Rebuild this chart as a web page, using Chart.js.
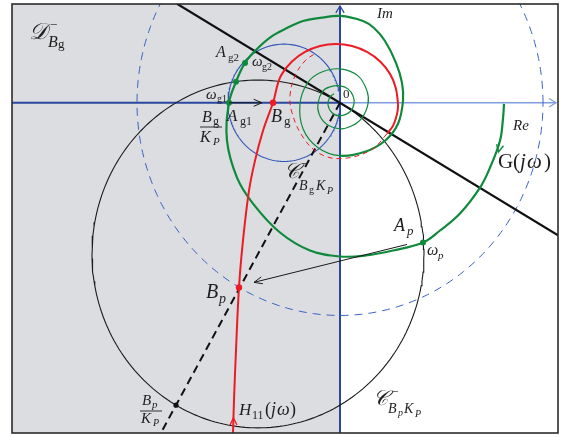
<!DOCTYPE html>
<html>
<head>
<meta charset="utf-8">
<script src="https://cdn.jsdelivr.net/npm/chart.js@4/dist/chart.umd.min.js"></script>
<style>
  html, body { margin: 0; padding: 0; background: #ffffff; }
  canvas { display: block; }
</style>
</head>
<body>
<canvas id="nyq" width="568" height="437"></canvas>
<script>
// ---- Plane extent (Re, Im) ----
const reRange = [-3.28, 2.18];
const imRange = [-3.152, 0.943];

// ---- Open-loop locus G(jw), traced clockwise from w = 0 and winding into the origin ----
const gRe = [1.64, 1.63, 1.60, 1.50, 1.40, 1.20, 1.00, 0.83, 0.53, 0.26, 0.00, -0.30, -0.60, -0.87, -1.03, -1.13,
             -1.11, -1.04, -0.95, -0.83, -0.69, -0.53, -0.37, -0.20, 0.00, 0.23, 0.34, 0.45, 0.56, 0.62, 0.63, 0.58, 0.45, 0.25, 0.00,
             -0.22, -0.37, -0.40, -0.33, -0.20, 0.00, 0.18, 0.27, 0.28, 0.22, 0.12, 0.00, -0.14, -0.21, -0.22,
             -0.17, -0.10, 0.00, 0.08, 0.13, 0.14, 0.10, 0.00, -0.08, -0.12, -0.10, -0.06];
const gIm = [-0.01, -0.152, -0.362, -0.619, -0.81, -1.057, -1.219, -1.333, -1.41, -1.457, -1.467, -1.41, -1.238, -0.962, -0.714, -0.362,
             0.00, 0.20, 0.381, 0.514, 0.63, 0.714, 0.781, 0.81, 0.829, 0.781, 0.714, 0.59, 0.381, 0.19, 0.019, -0.20, -0.362, -0.467, -0.505,
             -0.429, -0.248, -0.01, 0.181, 0.286, 0.324, 0.257, 0.114, -0.01, -0.143, -0.219, -0.248, -0.20, -0.105, 0.00,
             0.114, 0.152, 0.162, 0.133, 0.067, -0.01, -0.086, -0.124, -0.095, -0.019, 0.057, 0.086];
const gInnerFrom = 34;   // index where the locus enters its inner turns

// ---- Closed-loop locus H11(jw) ----
const hRe = [-1.07, -1.06, -1.04, -1.01, -0.97, -0.91, -0.85, -0.77, -0.67, -0.58, -0.35, -0.04, 0.27, 0.50, 0.58, 0.54, 0.47,
             0.30, 0.00, -0.22, -0.38, -0.48, -0.50, -0.45, -0.35, -0.24];
const hIm = [-3.152, -2.838, -2.362, -1.762, -1.314, -0.838, -0.552, -0.267, 0.00, 0.276, 0.486, 0.562, 0.486, 0.276, -0.01, -0.20, -0.295,
             -0.457, -0.533, -0.476, -0.314, -0.095, 0.067, 0.257, 0.40, 0.476];
const hDashedFrom = 16;  // high-frequency continuation is dashed

// ---- Circles: C_BgKp, C_BpKp and the dashed reference circle ----
const circleCx = [-0.56, -0.82, 0.00];
const circleCy = [0.00, -1.443, 0.00];
const circleR  = [0.56, 1.66, 2.03];

// ---- Straight construction lines ----
const slopeLineRe = [-1.63, 2.18];
const slopeLineIm = [0.945, -1.264];
const bpRayRe = [0.00, -1.80];
const bpRayIm = [0.00, -3.168];

// ---- Marked points ----
const redPtRe = [-0.67, -1.01];                  // B_g, B_p
const redPtIm = [0.00, -1.762];
const greenPtRe = [-1.11, -1.04, -0.95, 0.83];   // A_g1, w_g1, A_g2 / w_g2, A_p
const greenPtIm = [0.00, 0.20, 0.381, -1.333];
const blackPtRe = [-1.64];                       // B_p / K_P
const blackPtIm = [-2.886];

const zip = (xs, ys) => xs.map((x, i) => ({ x: x, y: ys[i] }));
function circlePts(i) {
  const pts = [];
  for (let k = 0; k <= 240; k++) {
    const t = (k / 240) * 2 * Math.PI;
    pts.push({ x: circleCx[i] + circleR[i] * Math.cos(t), y: circleCy[i] + circleR[i] * Math.sin(t) });
  }
  return pts;
}

const GREEN = '#0f8a3c', RED = '#ec1c24', BLUE = '#2f55b8', AXIS = '#2a479f', AXIS_LIGHT = '#7f9ddf';

const line = (data, color, width, extra) => Object.assign({
  data: data, showLine: true, borderColor: color, borderWidth: width,
  pointRadius: 0, fill: false, tension: 0
}, extra || {});

const datasets = [
  { data: zip(redPtRe, redPtIm), pointRadius: 3.2, pointBackgroundColor: RED, pointBorderWidth: 0, showLine: false },
  { data: zip(greenPtRe, greenPtIm), pointRadius: 3, pointBackgroundColor: GREEN, pointBorderWidth: 0, showLine: false },
  { data: zip(blackPtRe, blackPtIm), pointRadius: 2.6, pointBackgroundColor: '#111', pointBorderWidth: 0, showLine: false },
  line(zip(hRe, hIm), RED, 2, {
    tension: 0.38,
    segment: {
      borderWidth: c => (c.p0DataIndex >= hDashedFrom ? 1 : 2),
      borderDash: c => (c.p0DataIndex >= hDashedFrom ? [5, 4] : [])
    }
  }),
  line(zip(gRe, gIm), GREEN, 2.2, {
    tension: 0.38,
    segment: { borderWidth: c => (c.p0DataIndex >= gInnerFrom ? 1.2 : 2.2) }
  }),
  line(zip(slopeLineRe, slopeLineIm), '#111', 2.2),
  line(zip(bpRayRe, bpRayIm), '#111', 2, { borderDash: [8, 5] }),
  line(circlePts(0), BLUE, 1.1),
  line(circlePts(1), '#1b1b1b', 1.1),
  line(circlePts(2), '#3a62c6', 1, { borderDash: [8, 6] })
];

// ---- Text annotations (runs of italic / upright Times-style glyphs) ----
const SERIF = '"Liberation Serif", "DejaVu Serif", serif';
const SCRIPT_D = '\u{1D49F}', SCRIPT_C = '\u{1D49E}';
const textRuns = [
  [SCRIPT_D, 29, 39, 23, true], ['\u2212', 50, 29, 13, false], ['B', 48, 47, 16, true], ['g', 58, 48, 13, false],
  ['Im', 377, 18, 15, true],
  ['0', 343, 98, 13, false],
  ['Re', 513, 130, 15, true],
  ['G', 498, 168, 21, false], ['(', 513, 168, 21, false], ['j', 520, 168, 21, true], ['\u03C9', 527, 168, 21, true], [')', 544, 168, 21, false],
  ['A', 394, 231, 18, true], ['p', 407, 235, 13, true],
  ['\u03C9', 427, 255, 16, true], ['p', 438, 259, 11, true],
  ['B', 206, 298, 20, true], ['p', 219, 303, 14, true],
  ['B', 142, 405, 15, true], ['p', 152, 408, 11, true],
  ['K', 141, 423, 15, true], ['P', 153, 426, 10, true],
  ['H', 239, 415, 17, true], ['11', 252, 419, 12, false], ['(', 265, 415, 18, false], ['j', 271, 415, 18, true], ['\u03C9', 277, 415, 18, true], [')', 290, 415, 18, false],
  [SCRIPT_C, 373, 405, 21, true], ['\u2212', 391, 396, 13, false], ['B', 388, 413, 14, true], ['p', 398, 416, 10, true], ['K', 404, 413, 14, true], ['P', 415, 417, 10, true],
  [SCRIPT_C, 284, 178, 21, true], ['\u2212', 301, 168, 13, false], ['B', 299, 190, 14, true], ['g', 309, 193, 10, false], ['K', 316, 190, 14, true], ['P', 327, 194, 10, true],
  ['A', 216, 57, 16, true], ['g2', 228, 61, 11, false],
  ['\u03C9', 252, 66, 15, true], ['g2', 262, 70, 10, false],
  ['\u03C9', 206, 99, 15, true], ['g1', 217, 102, 10, false],
  ['A', 227, 121, 17, true], ['g1', 240, 125, 12, false],
  ['B', 271, 122, 18, true], ['g', 284, 125, 13, false],
  ['B', 202, 122, 16, true], ['g', 213, 125, 12, false],
  ['K', 200, 142, 16, true], ['P', 213, 145, 11, true]
];
const fractionBars = [[200, 222, 127], [140, 162, 411]];

// ---- Arrows given in plane coordinates ----
const arrowFromRe = [0.67, -1.11];
const arrowFromIm = [-1.352, 0.00];
const arrowToRe = [-0.86, -0.78];
const arrowToIm = [-1.714, 0.00];

function chevron(ctx, x, y, ang, len, spread) {
  ctx.beginPath();
  ctx.moveTo(x - len * Math.cos(ang - spread), y - len * Math.sin(ang - spread));
  ctx.lineTo(x, y);
  ctx.lineTo(x - len * Math.cos(ang + spread), y - len * Math.sin(ang + spread));
  ctx.stroke();
}

const planePlugin = {
  id: 'plane',
  beforeDatasetsDraw(chart) {
    const { ctx, chartArea: a, scales: { x, y } } = chart;
    const x0 = x.getPixelForValue(0), y0 = y.getPixelForValue(0);
    ctx.save();
    ctx.fillStyle = '#dcdde0';
    ctx.fillRect(a.left, a.top, x0 - a.left, a.bottom - a.top);
    // real axis
    ctx.lineWidth = 2;
    ctx.strokeStyle = AXIS;
    ctx.beginPath(); ctx.moveTo(a.left, y0); ctx.lineTo(x0, y0); ctx.stroke();
    ctx.strokeStyle = AXIS_LIGHT;
    ctx.lineWidth = 1.6;
    ctx.beginPath(); ctx.moveTo(x0, y0); ctx.lineTo(a.right - 2, y0); ctx.stroke();
    ctx.lineWidth = 1.2;
    chevron(ctx, a.right - 2, y0, 0, 8, 0.55);
    // imaginary axis
    ctx.strokeStyle = AXIS;
    ctx.lineWidth = 2;
    ctx.beginPath(); ctx.moveTo(x0, a.bottom); ctx.lineTo(x0, a.top + 2); ctx.stroke();
    ctx.lineWidth = 1.2;
    chevron(ctx, x0, a.top + 2, -Math.PI / 2, 8, 0.55);
    ctx.restore();
  },
  afterDatasetsDraw(chart) {
    const { ctx, chartArea: a, scales: { x, y } } = chart;
    ctx.save();
    // construction arrows
    ctx.strokeStyle = '#1a1a1a';
    ctx.lineWidth = 1;
    for (let i = 0; i < arrowFromRe.length; i++) {
      const x1 = x.getPixelForValue(arrowFromRe[i]), y1 = y.getPixelForValue(arrowFromIm[i]);
      const x2 = x.getPixelForValue(arrowToRe[i]), y2 = y.getPixelForValue(arrowToIm[i]);
      ctx.beginPath(); ctx.moveTo(x1, y1); ctx.lineTo(x2, y2); ctx.stroke();
      chevron(ctx, x2, y2, Math.atan2(y2 - y1, x2 - x1), 9, 0.4);
    }
    // direction marks on the loci
    ctx.lineWidth = 1.4;
    ctx.strokeStyle = GREEN;
    const gx = x.getPixelForValue(1.585), gy = y.getPixelForValue(-0.47);
    chevron(ctx, gx, gy, Math.atan2(1, -0.22), 8, 0.45);
    ctx.strokeStyle = RED;
    const hx = x.getPixelForValue(-1.066), hy = y.getPixelForValue(-3.007);
    chevron(ctx, hx, hy, -Math.PI / 2 - 0.02, 8, 0.45);
    // labels
    ctx.fillStyle = '#1e1e1e';
    ctx.textBaseline = 'alphabetic';
    textRuns.forEach(([t, tx, ty, s, it]) => {
      ctx.font = (it ? 'italic ' : '') + s + 'px ' + SERIF;
      ctx.fillText(t, tx, ty);
    });
    ctx.strokeStyle = '#1e1e1e';
    ctx.lineWidth = 0.9;
    fractionBars.forEach(([xa, xb, yb]) => {
      ctx.beginPath(); ctx.moveTo(xa, yb); ctx.lineTo(xb, yb); ctx.stroke();
    });
    // frame
    ctx.strokeStyle = '#2b2b2b';
    ctx.lineWidth = 1.6;
    ctx.strokeRect(a.left, a.top, a.right - a.left, a.bottom - a.top);
    ctx.restore();
  }
};

new Chart(document.getElementById('nyq'), {
  type: 'scatter',
  data: { datasets: datasets },
  options: {
    responsive: false,
    animation: false,
    events: [],
    layout: { padding: { left: 12, right: 10, top: 3, bottom: 4 } },
    plugins: { legend: { display: false }, tooltip: { enabled: false } },
    scales: {
      x: { type: 'linear', min: reRange[0], max: reRange[1], display: false },
      y: { type: 'linear', min: imRange[0], max: imRange[1], display: false }
    }
  },
  plugins: [planePlugin]
});
</script>
</body>
</html>
